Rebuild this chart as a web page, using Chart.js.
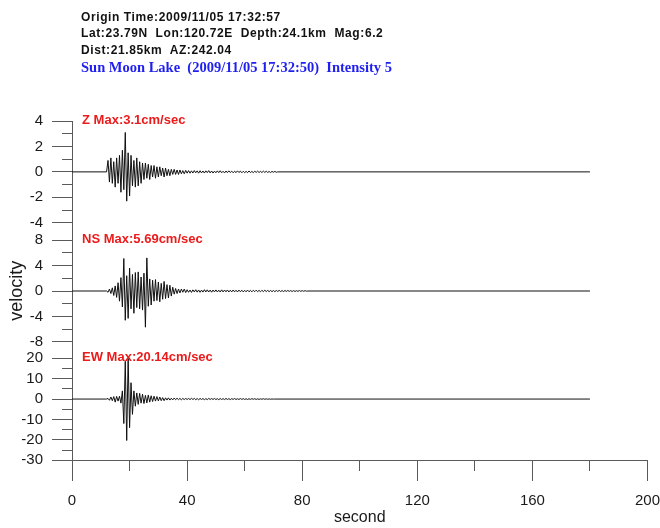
<!DOCTYPE html>
<html>
<head>
<meta charset="utf-8">
<script src="https://cdn.jsdelivr.net/npm/chart.js@4.4.1/dist/chart.umd.min.js"></script>
<style>
  html, body { margin: 0; padding: 0; background: #fff; overflow: hidden; }
  #wrap { position: absolute; left: 0; top: 0; width: 660px; height: 528px; }
  .hdr {
    position: absolute; left: 81px; white-space: pre; color: #111;
    font: bold 12px "Liberation Sans", Arial, sans-serif; letter-spacing: 0.6px; line-height: 14px;
  }
  .site { font: bold 14.5px "Liberation Serif", "Times New Roman", serif; letter-spacing: 0; color: #1f1ff0; line-height: 16px; }
</style>
</head>
<body>
<div id="wrap"><canvas id="quake"></canvas></div>
<div class="hdr" style="top:9.5px">Origin Time:2009/11/05 17:32:57</div>
<div class="hdr" style="top:26px">Lat:23.79N  Lon:120.72E  Depth:24.1km  Mag:6.2</div>
<div class="hdr" style="top:42.7px">Dist:21.85km  AZ:242.04</div>
<div class="hdr site" style="top:59.3px">Sun Moon Lake  (2009/11/05 17:32:50)  Intensity 5</div>
<script>
// record timing (seconds)
const recordStart = 0;
const recordEnd = 180;
const traceStart = 12;
const sampleStep = 0.5;

// velocity samples (cm/sec) from traceStart every sampleStep seconds
const zVel = [
  0, 0.9, -0.8, 1.1, -0.9, 0.8, -1.2, 1.1, -0.9, 1.3, -1.6, 1.7, -1.4, 3.1, -2.3, 1.5,
  -1.9, 1.3, -1.1, 0.9, -1.2, 1.1, -1.1, 0.8, -0.9, 0.7, -0.6, 0.7, -0.5, 0.6, -0.6, 0.5,
  -0.4, 0.5, -0.5, 0.4, -0.4, 0.4, -0.3, 0.3, -0.4, 0.3, -0.3, 0.2, -0.3, 0.2, -0.2, 0.2,
  -0.2, 0.15, -0.2, 0.15, -0.15, 0.1, -0.15, 0.12, -0.1, 0.1,
  -0.1, 0.08, -0.09, 0.1, -0.07, 0.08, -0.1, 0.09, -0.08, 0.07, -0.09, 0.08, -0.06, 0.1,
  -0.08, 0.07, -0.09, 0.06, -0.07, 0.08, -0.06, 0.09, -0.07, 0.05, -0.08, 0.07, -0.06, 0.08,
  -0.05, 0.06, -0.07, 0.05, -0.06, 0.08, -0.05, 0.06, -0.07, 0.05, -0.06, 0.04, -0.06, 0.07,
  -0.05, 0.04, -0.06, 0.05, -0.04, 0.06, -0.05, 0.04, -0.05, 0.06, -0.04, 0.05, -0.04, 0.03,
  -0.05, 0.04, -0.03, 0.04, -0.03, 0
];
const nsVel = [
  0, -0.2, 0.3, -0.4, 0.5, -0.7, 0.8, -1.0, 1.3, -1.6, 2.1, -2.5, 5.1, -4.6, 2.4, -4.3,
  3.6, -2.8, 2.6, -3.5, 2.9, -2.6, 3.0, -2.8, 2.2, -3.0, 2.8, -5.69, 5.2, -2.4, 1.9, -2.2,
  1.7, -1.6, 1.8, -1.5, 1.4, -1.7, 1.2, -1.3, 1.5, -1.2, 1.0, -1.1, 0.9, -0.8, 0.6, -0.5,
  0.4, -0.4, 0.3, -0.3, 0.3, -0.2, 0.3, -0.25, 0.2,
  -0.2, 0.15, -0.22, 0.18, -0.15, 0.2, -0.18, 0.16, -0.2, 0.14, -0.17, 0.2, -0.15, 0.18,
  -0.16, 0.14, -0.19, 0.15, -0.14, 0.17, -0.15, 0.13, -0.16, 0.18, -0.14, 0.15, -0.13, 0.16,
  -0.15, 0.12, -0.14, 0.16, -0.13, 0.12, -0.15, 0.14, -0.12, 0.13, -0.14, 0.11, -0.13, 0.14,
  -0.12, 0.1, -0.13, 0.12, -0.1, 0.13, -0.11, 0.1, -0.12, 0.11, -0.1, 0.12, -0.09, 0.1,
  -0.11, 0.09, -0.1, 0.08, -0.1, 0.09, -0.08, 0.1, -0.08, 0.07, -0.09, 0.08, -0.07, 0.08,
  -0.06, 0.07, -0.08, 0.06, -0.07, 0.05, -0.06, 0.07, -0.05, 0.06, -0.04, 0.05, -0.03, 0
];
const ewVel = [
  0, 0.3, -0.6, 1.0, -0.8, 1.2, -1.5, 1.3, -1.0, 1.4, -2.0, 4.0, -12.0, 18.5, -20.3, 20.14,
  -14.0, 8.0, -7.5, 4.0, -3.5, 3.0, -2.6, 2.8, -2.0, 2.4, -2.2, 1.8, -1.9, 2.0, -1.5, 1.6,
  -1.2, 1.4, -1.0, 1.2, -0.9, 1.0, -0.8, 0.7, -0.8, 0.6, -0.5, 0.6, -0.5, 0.4, -0.4, 0.5,
  -0.3, 0.4, -0.3, 0.3, -0.35, 0.3, -0.25, 0.3, -0.2,
  0.3, -0.25, 0.35, -0.2, 0.3, -0.3, 0.25, -0.35, 0.3, -0.2, 0.25, -0.3, 0.2, -0.25,
  0.3, -0.2, 0.25, -0.2, 0.3, -0.25, 0.2, -0.3, 0.25, -0.2, 0.2, -0.25, 0.3, -0.2,
  0.2, -0.25, 0.2, -0.15, 0.25, -0.2, 0.15, -0.2, 0.25, -0.15, 0.2, -0.2, 0.15, -0.2,
  0.15, -0.15, 0.2, -0.1, 0.15, -0.15, 0.1, -0.15, 0.1, -0.1, 0.15, -0.1, 0.1, -0.1,
  0.08, -0.1, 0.06, -0.05, 0
];

const panelTitles = ["Z Max:3.1cm/sec", "NS Max:5.69cm/sec", "EW Max:20.14cm/sec"];

// axes
const xTicks = [0, 20, 40, 60, 80, 100, 120, 140, 160, 180, 200];
const xLabels = [0, 40, 80, 120, 160, 200];
const zTicks = [-4, -3, -2, -1, 0, 1, 2, 3, 4];
const zLabels = [-4, -2, 0, 2, 4];
const nsTicks = [-8, -6, -4, -2, 0, 2, 4, 6, 8];
const nsLabels = [-8, -4, 0, 4, 8];
const ewTicks = [-30, -25, -20, -15, -10, -5, 0, 5, 10, 15, 20];
const ewLabels = [-30, -20, -10, 0, 10, 20];

const fontFamily = '"Liberation Sans", Arial, sans-serif';
const tickFont = { family: fontFamily, size: 15, lineHeight: 1 };
const axisGrey = "#5a5a5a";
const inkColor = "#1a1a1a";

// tick reserve is longer than the drawn mark so labels sit further out
const yReserve = 29;
const xReserve = 33;

const traceData = (values) => [
  { x: recordStart, y: 0 },
  ...values.map((v, i) => ({ x: traceStart + i * sampleStep, y: v })),
  { x: recordEnd, y: 0 },
];

// dash that keeps only the last `len` px (drawn from outside toward the y axis)
const innerDash = (reserve, len) => [0, reserve - len, len, 0];
// dash that keeps only the first `len` px (drawn from the x axis outward)
const outerDash = (reserve, len) => [len, reserve - len + 1];

const panelAxis = (min, max, ticks, labels, extra) => Object.assign({
  type: "linear",
  position: "left",
  stack: "traces",
  stackWeight: 1,
  min: min,
  max: max,
  afterBuildTicks: (scale) => { scale.ticks = ticks.map((v) => ({ value: v })); },
  ticks: {
    autoSkip: false,
    padding: 0,
    color: inkColor,
    font: tickFont,
    callback: (v) => (labels.includes(v) ? String(v) : ""),
  },
  grid: {
    drawOnChartArea: false,
    tickLength: yReserve,
    tickColor: axisGrey,
    tickBorderDash: (c) => innerDash(yReserve, labels.includes(c.tick.value) ? 20 : 10),
  },
  border: { color: axisGrey, width: 1 },
}, extra || {});

const panelLabels = {
  id: "panelLabels",
  afterDatasetsDraw(chart) {
    const { ctx, chartArea } = chart;
    ctx.save();
    ctx.font = 'bold 13px "Liberation Sans", Arial, sans-serif';
    ctx.fillStyle = "#ec1b1b";
    ctx.textBaseline = "alphabetic";
    ["yZ", "yNS", "yEW"].forEach((id, i) => {
      const s = chart.scales[id];
      const top = s.ticks[s.ticks.length - 1].value;
      ctx.fillText(panelTitles[i], chartArea.left + 10, s.getPixelForValue(top) + 2.5);
    });
    ctx.restore();
  },
};

const line = (values, axis) => ({
  data: traceData(values),
  yAxisID: axis,
  borderColor: "#111",
  borderWidth: 1,
  pointRadius: 0,
  tension: 0,
  fill: false,
});

new Chart(document.getElementById("quake"), {
  type: "line",
  data: { datasets: [line(zVel, "yZ"), line(nsVel, "yNS"), line(ewVel, "yEW")] },
  options: {
    responsive: true,
    maintainAspectRatio: false,
    animation: false,
    layout: { padding: { top: 121, left: 6.1, right: 0, bottom: 0 } },
    plugins: { legend: { display: false }, tooltip: { enabled: false } },
    scales: {
      x: {
        type: "linear",
        position: "bottom",
        min: 0,
        max: 200,
        afterBuildTicks: (scale) => { scale.ticks = xTicks.map((v) => ({ value: v })); },
        ticks: {
          autoSkip: false,
          maxRotation: 0,
          padding: 0,
          color: inkColor,
          font: tickFont,
          callback: (v) => (xLabels.includes(v) ? String(v) : ""),
        },
        grid: {
          drawOnChartArea: false,
          tickLength: xReserve,
          tickColor: axisGrey,
          tickBorderDash: (c) => outerDash(xReserve, xLabels.includes(c.tick.value) ? 20 : 10),
        },
        border: { color: axisGrey, width: 1 },
        title: {
          display: true,
          text: "second",
          color: inkColor,
          font: { family: fontFamily, size: 16 },
          padding: { top: 0, bottom: 0.5 },
        },
      },
      // stacked from the bottom up
      yEW: panelAxis(-30, 25.4, ewTicks, ewLabels),
      yNS: panelAxis(-8.83, 8.94, nsTicks, nsLabels, {
        title: {
          display: true,
          text: "velocity",
          color: inkColor,
          font: { family: fontFamily, size: 18 },
          padding: { top: 0, bottom: 2 },
        },
      }),
      yZ: panelAxis(-4.89, 4, zTicks, zLabels),
    },
  },
  plugins: [panelLabels],
});
</script>
</body>
</html>
